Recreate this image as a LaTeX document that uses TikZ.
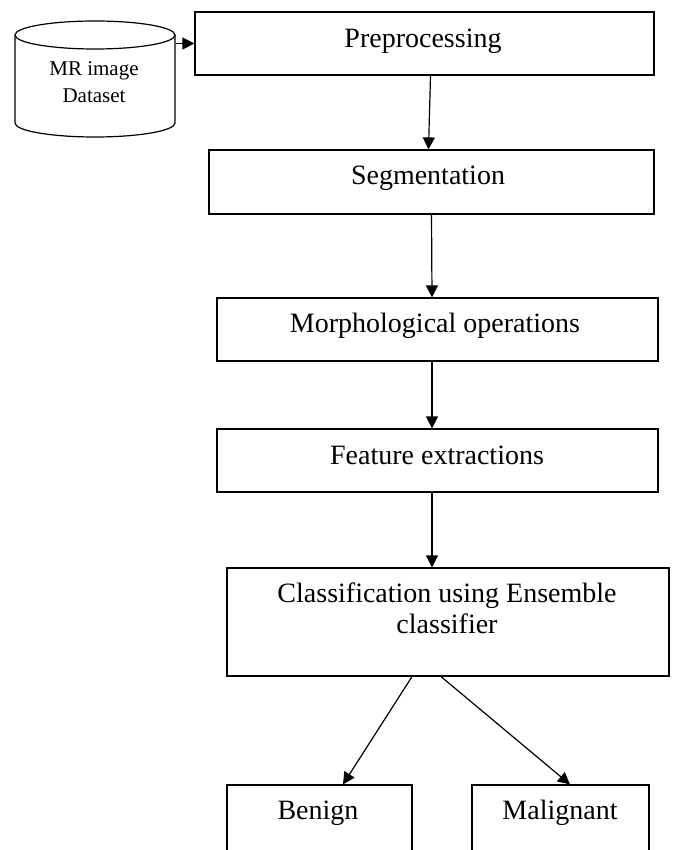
\documentclass[tikz,border=0pt]{standalone}
\usepackage{fontspec}
\setmainfont{Liberation Serif}
\usetikzlibrary{arrows.meta}
\begin{document}
\begin{tikzpicture}[x=1pt,y=1pt,
  box/.style={draw, line width=1.2pt, rectangle, inner sep=0pt},
  lbl/.style={anchor=base, inner sep=0pt, font=\fontsize{28}{32}\selectfont},
  dblbl/.style={anchor=base, inner sep=0pt, font=\fontsize{21}{26}\selectfont},
  arr/.style={line width=1.2pt, -{Triangle[length=12pt,width=12pt]}}]
\useasboundingbox (0,0) rectangle (676,-850);
\clip (0,0) rectangle (676,-850);
% cylinder
\draw[line width=1.2pt] (15,-35) -- (15,-123) arc[start angle=180,end angle=360,x radius=80,y radius=14] -- (175,-35);
\draw[line width=1.2pt] (95,-35) ellipse[x radius=80,y radius=14];
\node[inner sep=0pt, minimum width=160pt, minimum height=116pt] (db) at (95,-79) {};
\node[dblbl] (dbT1) at (94,-76) {MR image};
\node[dblbl] (dbT2) at (94,-103) {Dataset};
\coordinate (dbout) at (176,-43.5);
% boxes
\node[box, minimum width=459pt, minimum height=63pt] (pre) at (424.5,-43.5) {};
\node[box, minimum width=445pt, minimum height=64pt] (seg) at (431.5,-182) {};
\node[box, minimum width=441pt, minimum height=63pt] (mor) at (437.5,-329.5) {};
\node[box, minimum width=441pt, minimum height=63pt] (fea) at (437.5,-460.5) {};
\node[box, minimum width=442pt, minimum height=108pt] (cls) at (448,-622) {};
\node[box, minimum width=185pt, minimum height=110pt] (ben) at (319.5,-840) {};
\node[box, minimum width=177pt, minimum height=110pt] (mal) at (560.5,-840) {};
% labels
\node[lbl] (preT) at (423,-48) {Preprocessing};
\node[lbl] (segT) at (428,-185) {Segmentation};
\node[lbl] (morT) at (435,-332) {Morphological operations};
\node[lbl] (feaT) at (437,-464) {Feature extractions};
\node[lbl] (clsT1) at (447,-602) {Classification using Ensemble};
\node[lbl] (clsT2) at (447,-633) {classifier};
\node[lbl] (benT) at (318,-819) {Benign};
\node[lbl] (malT) at (560,-819) {Malignant};
% connectors
\draw[arr] (dbout) -- (pre.west);
\draw[arr] ([xshift=6pt]pre.south) -- ([xshift=-3pt]seg.north);
\draw[arr] (seg.south) -- ([xshift=-5.5pt]mor.north);
\draw[arr] ([xshift=-5.5pt]mor.south) -- ([xshift=-5.5pt]fea.north);
\draw[arr] ([xshift=-5.5pt]fea.south) -- ([xshift=-16pt]cls.north);
\draw[arr] ([xshift=-36pt]cls.south) -- ([xshift=23.5pt]ben.north);
\draw[arr] ([xshift=-7pt]cls.south) -- ([xshift=9.5pt]mal.north);
\end{tikzpicture}
\end{document}
